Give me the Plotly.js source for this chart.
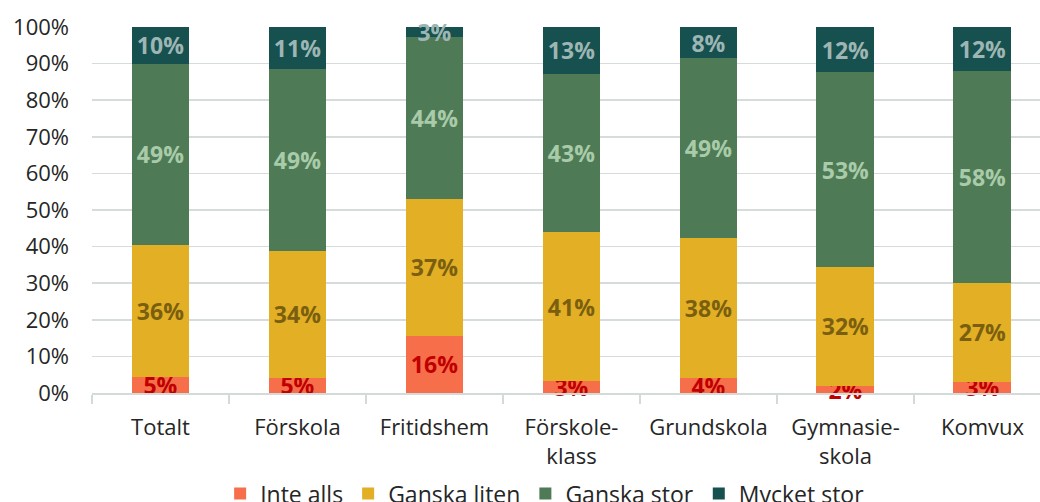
<!DOCTYPE html>
<html>
<head>
<meta charset="utf-8">
<script src="https://cdn.plot.ly/plotly-3.0.1.min.js"></script>
<style>
  html, body { margin: 0; padding: 0; background: #ffffff; }
  #chart { width: 1040px; height: 502px; }
</style>
</head>
<body>
<div id="chart"></div>
<script>
// Categories (x axis tick labels)
const categories = ["Totalt", "Förskola", "Fritidshem", "Förskole-<br>klass", "Grundskola", "Gymnasie-<br>skola", "Komvux"];

// Series values (share in %)
const inteAlls     = [4.5, 4.2, 15.7, 3.2, 4.0, 1.9, 3.1];
const ganskaLiten  = [35.9, 34.6, 37.3, 40.8, 38.3, 32.6, 27.0];
const ganskaStor   = [49.6, 49.7, 44.4, 43.2, 49.2, 53.1, 57.9];
const mycketStor   = [10.0, 11.5, 2.6, 12.8, 8.5, 12.4, 12.0];

// Data labels as printed in the chart
const inteAllsLabels    = ["5%", "5%", "16%", "3%", "4%", "2%", "3%"];
const ganskaLitenLabels = ["36%", "34%", "37%", "41%", "38%", "32%", "27%"];
const ganskaStorLabels  = ["49%", "49%", "44%", "43%", "49%", "53%", "58%"];
const mycketStorLabels  = ["10%", "11%", "3%", "13%", "8%", "12%", "12%"];

const seriesNames = ["Inte alls", "Ganska liten", "Ganska stor", "Mycket stor"];

const FONT = "'Open Sans', 'Noto Sans', 'DejaVu Sans', sans-serif";

function mkTrace(name, values, labels, color, labelColor) {
  return {
    type: "bar",
    name: name,
    x: categories,
    y: values.map(v => v / 100),
    text: labels,
    texttemplate: "%{text}",
    textposition: "inside",
    insidetextanchor: "middle",
    constraintext: "none",
    textangle: 0,
    cliponaxis: false,
    textfont: { family: FONT, size: 23, color: labelColor, weight: "bold" },
    marker: { color: color, line: { width: 0 } },
    hoverinfo: "skip"
  };
}

const data = [
  mkTrace(seriesNames[0], inteAlls, inteAllsLabels, "#F76F4A", "#C00000"),
  mkTrace(seriesNames[1], ganskaLiten, ganskaLitenLabels, "#E2AF25", "#7A5F10"),
  mkTrace(seriesNames[2], ganskaStor, ganskaStorLabels, "#4E7B55", "#A9CBAA"),
  mkTrace(seriesNames[3], mycketStor, mycketStorLabels, "#16504F", "#9DB5B3")
];

const layout = {
  width: 1040,
  height: 502,
  margin: { l: 92, r: 0, t: 27, b: 109, pad: 0, autoexpand: false },
  paper_bgcolor: "#ffffff",
  plot_bgcolor: "#ffffff",
  barmode: "stack",
  bargap: 0.577,
  font: { family: FONT, size: 22, color: "#262626" },
  showlegend: true,
  legend: {
    orientation: "h",
    x: 0.478,
    xanchor: "center",
    y: -0.275,
    yanchor: "middle",
    font: { family: FONT, size: 23, color: "#262626" },
    traceorder: "normal",
    itemwidth: 30,
    bgcolor: "rgba(0,0,0,0)"
  },
  xaxis: {
    type: "category",
    range: [-0.5, 6.42],
    showline: true,
    linecolor: "#D3DADA",
    linewidth: 2,
    ticks: "outside",
    tickson: "boundaries",
    ticklen: 9,
    tickwidth: 2,
    tickcolor: "#D3DADA",
    showgrid: false,
    ticklabelstandoff: 14,
    tickfont: { family: FONT, size: 22, color: "#262626" },
    fixedrange: true
  },
  yaxis: {
    range: [0, 1],
    tickvals: [0, 0.1, 0.2, 0.3, 0.4, 0.5, 0.6, 0.7, 0.8, 0.9, 1.0],
    tickformat: ".0%",
    showgrid: true,
    gridcolor: "#D6DCDC",
    gridwidth: 1.5,
    zeroline: false,
    showline: false,
    ticks: "",
    ticklabelstandoff: 22,
    tickfont: { family: FONT, size: 22, color: "#262626" },
    fixedrange: true
  }
};

Plotly.newPlot("chart", data, layout, { staticPlot: true, displayModeBar: false });
</script>
</body>
</html>
